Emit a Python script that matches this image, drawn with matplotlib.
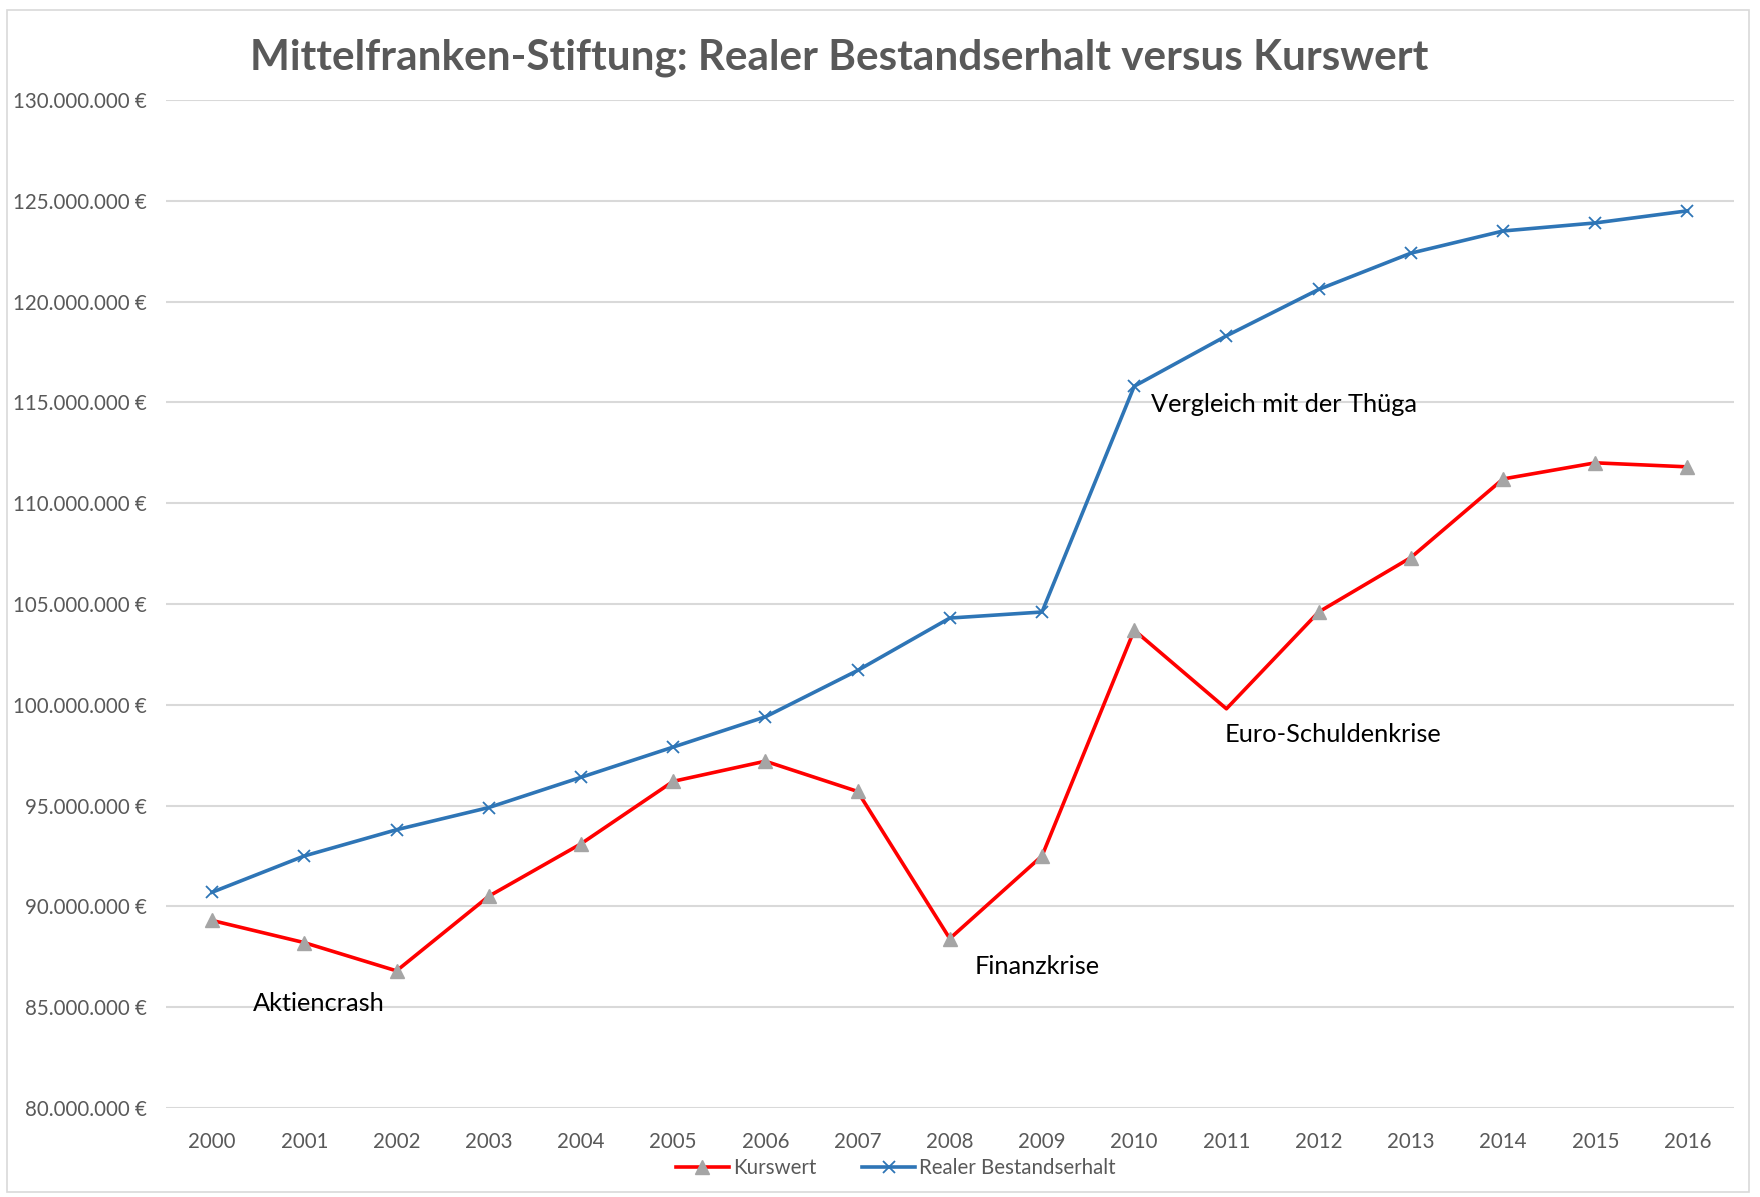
import matplotlib.pyplot as plt
from matplotlib.ticker import FuncFormatter
from matplotlib.patches import Rectangle

# Data (Mio. EUR)
years = [2000, 2001, 2002, 2003, 2004, 2005, 2006, 2007, 2008,
         2009, 2010, 2011, 2012, 2013, 2014, 2015, 2016]
kurswert = [89.3, 88.2, 86.8, 90.5, 93.1, 96.2, 97.2, 95.7, 88.4,
            92.5, 103.7, 99.8, 104.6, 107.3, 111.2, 112.0, 111.8]
bestand = [90.7, 92.5, 93.8, 94.9, 96.4, 97.9, 99.4, 101.7, 104.3,
           104.6, 115.8, 118.3, 120.6, 122.4, 123.5, 123.9, 124.5]

# annotation texts with (category index, value)
notes = [("Aktiencrash", 0.44, 85.2),
         ("Finanzkrise", 8.27, 87.0),
         ("Euro-Schuldenkrise", 10.98, 98.5),
         ("Vergleich mit der Thüga", 10.18, 114.9)]

plt.rcParams['font.family'] = ['Lato', 'DejaVu Sans']

fig = plt.figure(figsize=(17.6, 11.97), dpi=100)
ax = fig.add_axes([0.0943, 0.0744, 0.8907, 0.8421])

# light frame around the whole chart
fig.patches.append(Rectangle((0.004, 0.004), 0.99, 0.988, transform=fig.transFigure,
                             fill=False, edgecolor='#d9d9d9', linewidth=1.2))

x = list(range(len(years)))
# the 2011 marker is hidden in the original
marks = [i for i in x if i != 11]
ax.plot(x, kurswert, color='#ff0000', linewidth=2.6, marker='^', markersize=10,
        markevery=marks, markerfacecolor='#a5a5a5', markeredgecolor='#a5a5a5',
        label='Kurswert', zorder=3)
ax.plot(x, bestand, color='#2e75b6', linewidth=2.6, marker='x', markersize=9,
        markeredgewidth=1.3, markeredgecolor='#2e75b6', label='Realer Bestandserhalt', zorder=3)

for txt, xi, yi in notes:
    ax.text(xi, yi, txt, fontsize=18.3, color='black', ha='left', va='center')

ax.set_xlim(-0.5, len(years) - 0.5)
ax.set_ylim(80, 130)
ax.set_xticks(x)
ax.set_xticklabels([str(y) for y in years])
ax.set_yticks(range(80, 131, 5))
ax.yaxis.set_major_formatter(FuncFormatter(
    lambda v, p: '{:,.0f} €'.format(v * 1e6).replace(',', '.')))
ax.tick_params(axis='both', length=0, labelsize=14.8, labelcolor='#595959')
ax.tick_params(axis='y', pad=14)
ax.tick_params(axis='x', pad=17)

ax.grid(axis='y', color='#d9d9d9', linewidth=1.5)
ax.set_axisbelow(True)
for s in ax.spines.values():
    s.set_visible(False)

fig.text(0.477, 0.952, 'Mittelfranken-Stiftung: Realer Bestandserhalt versus Kurswert',
         fontsize=30.4, fontweight='bold', color='#595959', ha='center', va='center')

fig.legend(loc='center', bbox_to_anchor=(0.509, 0.024), ncol=2, frameon=False,
           fontsize=14.8, labelcolor='#595959', handlelength=2.6, columnspacing=2.2,
           handletextpad=0.2)

fig.savefig('out.png', dpi=100)
